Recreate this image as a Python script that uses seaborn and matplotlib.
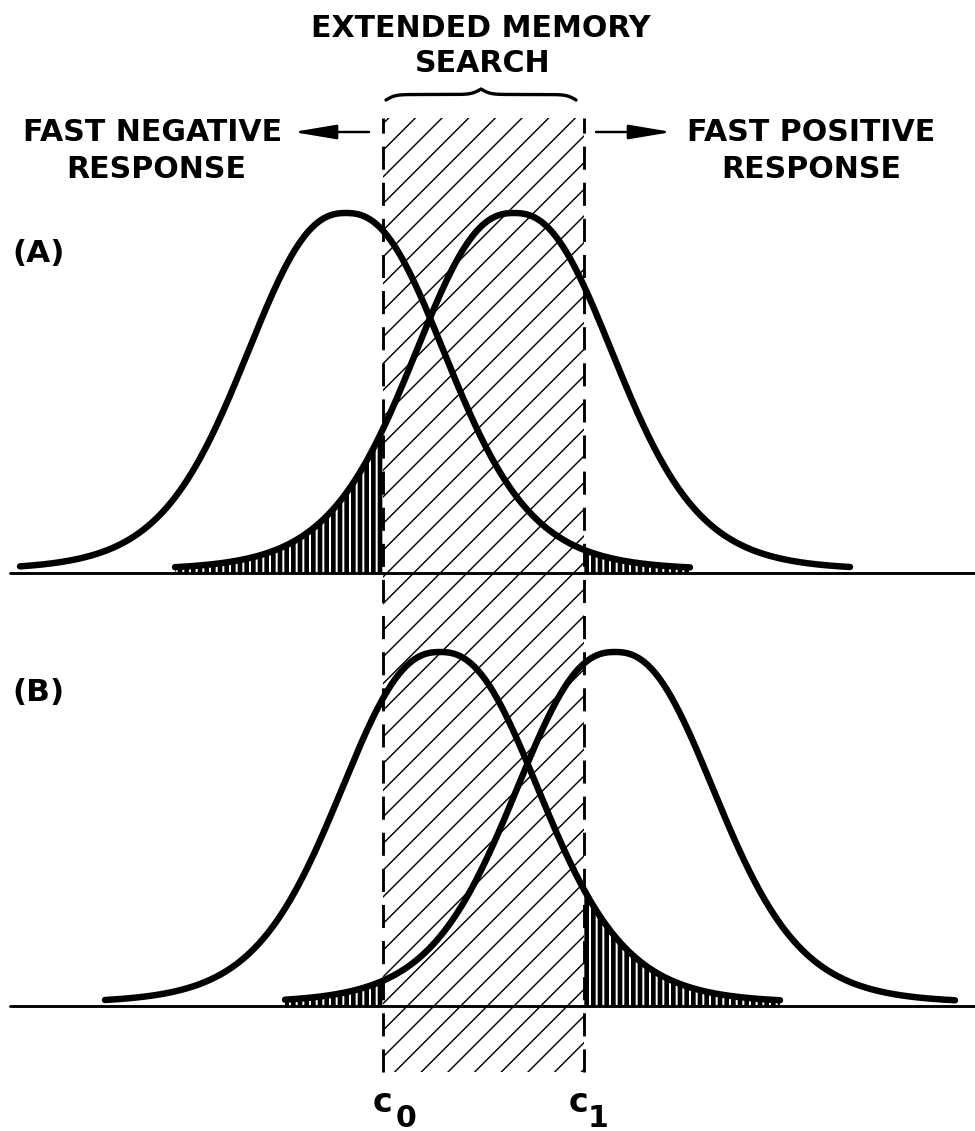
import numpy as np
import pandas as pd
import matplotlib
matplotlib.use("Agg")
import matplotlib.pyplot as plt
import seaborn as sns
from matplotlib.patches import Rectangle

# ---------------- data (evidence axis in drawing units) ----------------
panel_labels = ["(A)", "(B)"]
criteria = [383, 584]                 # c0, c1
criterion_names = ["c", "c"]
criterion_subs = ["0", "1"]
negative_means = [346, 440]           # "new" item familiarity distribution
positive_means = [514, 615]           # "old" item familiarity distribution
peak_heights = [357, 351]
negative_support = [(20, 690), (105, 780)]
positive_support = [(175, 850), (285, 955)]
curve_scale = 102.0
curve_power = 2.4
curve_df = 6.0
tail_lift = 3.0

# ---------------- layout ----------------
W, H, DPI = 975, 1131, 80
baselines = [H - 573, H - 1006]
rect_bottom, rect_top = H - 1072, H - 118

sns.set_theme(style="white")
plt.rcParams["font.family"] = ["DejaVu Sans"]
plt.rcParams["text.color"] = "black"

fig = plt.figure(figsize=(W / DPI, H / DPI), dpi=DPI)
fig.patch.set_facecolor("white")
ax = fig.add_axes([0, 0, 1, 1])


def density(x, mu, peak):
    z = np.abs(x - mu) / curve_scale
    return peak * (1 + z ** curve_power / curve_df) ** (-(curve_df + 1) / 2) + tail_lift


# extended memory search region
with plt.rc_context({"hatch.linewidth": 1.3}):
    rect = Rectangle((criteria[0], rect_bottom), criteria[1] - criteria[0],
                     rect_top - rect_bottom, facecolor="none", edgecolor="black",
                     hatch="/", linewidth=0, zorder=1)
    if hasattr(rect, "set_hatch_linewidth"):
        rect.set_hatch_linewidth(1.3)
    ax.add_patch(rect)

rows = []
for i in range(2):
    b = baselines[i]
    # error tails (vertical stripes)
    with plt.rc_context({"hatch.linewidth": 1.8}):
        xs = np.linspace(positive_support[i][0], criteria[0], 300)
        f1 = ax.fill_between(xs, b, b + density(xs, positive_means[i], peak_heights[i]),
                             facecolor="black", edgecolor="white", hatch="||",
                             linewidth=0, zorder=2)
        xs2 = np.linspace(criteria[1], negative_support[i][1], 300)
        f2 = ax.fill_between(xs2, b, b + density(xs2, negative_means[i], peak_heights[i]),
                             facecolor="black", edgecolor="white", hatch="||",
                             linewidth=0, zorder=2)
        for f in (f1, f2):
            if hasattr(f, "set_hatch_linewidth"):
                f.set_hatch_linewidth(1.8)
    # baseline
    ax.plot([10, W], [b, b], color="black", lw=2.6, zorder=3)
    # curves
    for name, mu, sup in (("neg", negative_means[i], negative_support[i]),
                          ("pos", positive_means[i], positive_support[i])):
        xs = np.linspace(sup[0], sup[1], 500)
        ys = b + density(xs, mu, peak_heights[i])
        rows.append(pd.DataFrame({"x": xs, "y": ys, "curve": f"{name}{i}"}))

df = pd.concat(rows, ignore_index=True)
sns.lineplot(data=df, x="x", y="y", units="curve", estimator=None, color="black",
             lw=5.8, solid_capstyle="round", ax=ax, legend=False, zorder=4)
ax.set_xlim(0, W)
ax.set_ylim(0, H)
ax.axis("off")

# criterion dashed lines
for c in criteria:
    ax.plot([c, c], [rect_bottom, rect_top], color="black", lw=2.6,
            ls=(0, (8, 4.5)), zorder=5)

# brace over the region
x0, x1 = criteria[0] + 3, criteria[1] - 8
xm = (x0 + x1) / 2
yb = H - 100
k = 0.22
xa = np.linspace(x0, xm, 200)
ya = 1 / (1 + np.exp(-k * (xa - x0))) + 1 / (1 + np.exp(-k * (xa - xm)))
xb = np.linspace(xm, x1, 200)
ybb = 1 / (1 + np.exp(-k * (x1 - xb))) + 1 / (1 + np.exp(-k * (xm - xb)))
bx = np.concatenate([xa, xb])
by = yb + (np.concatenate([ya, ybb]) - 0.5) * 11
ax.plot(bx, by, color="black", lw=3.0, solid_capstyle="round", zorder=5)

# arrows
ay = H - 132
arrow = dict(arrowstyle="-|>,head_length=1.5,head_width=0.25", color="black",
             lw=2.2, mutation_scale=22, shrinkA=0, shrinkB=0)
ax.annotate("", xy=(293, ay), xytext=(369, ay), arrowprops=arrow, zorder=5)
ax.annotate("", xy=(672, ay), xytext=(596, ay), arrowprops=arrow, zorder=5)

# texts
fs = 27
tw = "bold"
ax.text(481, H - 37, "EXTENDED MEMORY", ha="center", va="baseline", fontsize=fs, fontweight=tw)
ax.text(483, H - 72, "SEARCH", ha="center", va="baseline", fontsize=fs, fontweight=tw)
ax.text(153, H - 141, "FAST NEGATIVE", ha="center", va="baseline", fontsize=fs, fontweight=tw)
ax.text(156, H - 178, "RESPONSE", ha="center", va="baseline", fontsize=fs, fontweight=tw)
ax.text(811, H - 141, "FAST POSITIVE", ha="center", va="baseline", fontsize=fs, fontweight=tw)
ax.text(811, H - 178, "RESPONSE", ha="center", va="baseline", fontsize=fs, fontweight=tw)
ax.text(12, H - 262, panel_labels[0], ha="left", va="baseline", fontsize=fs + 1,
        fontweight="bold")
ax.text(12, H - 701, panel_labels[1], ha="left", va="baseline", fontsize=fs + 1,
        fontweight="bold")
for c, nm, sb, dxc, dxs in zip(criteria, criterion_names, criterion_subs, (-1, -6), (23, 14)):
    ax.text(c + dxc, H - 1112, nm, ha="center", va="baseline", fontsize=30, fontweight="bold")
    ax.text(c + dxs, H - 1127, sb, ha="center", va="baseline", fontsize=27, fontweight="bold")

fig.savefig("out.png", dpi=DPI, facecolor="white")
